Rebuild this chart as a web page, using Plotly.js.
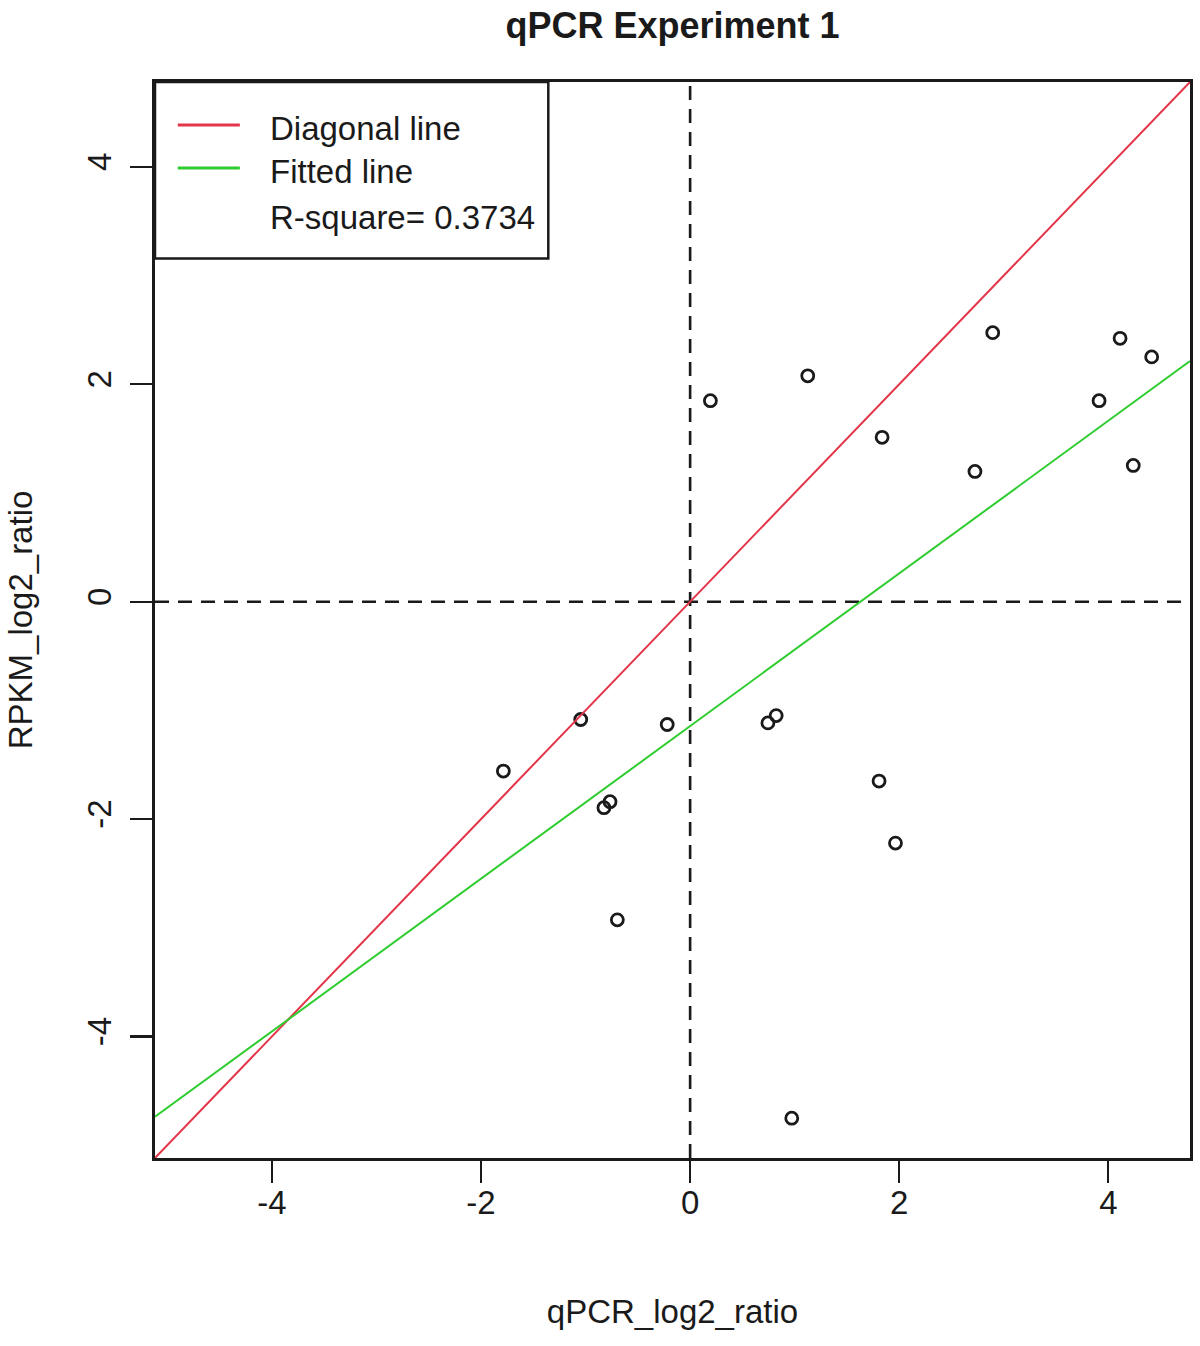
<!DOCTYPE html>
<html>
<head>
<meta charset="utf-8">
<script src="https://cdn.plot.ly/plotly-3.0.1.min.js"></script>
<style>html,body{margin:0;padding:0;background:#fff;}#chart{width:1200px;height:1346px;}</style>
</head>
<body>
<div id="chart"></div>
<script>
// ---- data ----
var qpcrLog2Ratio = [-1.786, -1.046, -0.219, -0.824, -0.766, -0.696, 0.194, 1.125, 1.836, 2.724,
                     2.894, 4.112, 4.414, 3.911, 4.238, 0.744, 0.823, 1.807, 1.964, 0.972];
var rpkmLog2Ratio = [-1.558, -1.084, -1.130, -1.895, -1.840, -2.927, 1.849, 2.078, 1.512, 1.198,
                     2.475, 2.423, 2.252, 1.849, 1.253, -1.115, -1.048, -1.650, -2.221, -4.751];
var axisTicks = [-4, -2, 0, 2, 4];
var legendLabels = ["Diagonal line", "Fitted line", "R-square= 0.3734"];
var chartTitle = "qPCR Experiment 1";
var xTitle = "qPCR_log2_ratio";
var yTitle = "RPKM_log2_ratio";

// axis limits: data range extended by 4% (as R does), same for both axes
var all = qpcrLog2Ratio.concat(rpkmLog2Ratio);
var lo = Math.min.apply(null, all), hi = Math.max.apply(null, all);
var pad = (hi - lo) * 0.04;
var lim = [lo - pad, hi + pad];

// least-squares fit (lm(y ~ x))
var n = qpcrLog2Ratio.length;
var mx = qpcrLog2Ratio.reduce(function(a,b){return a+b;},0)/n;
var my = rpkmLog2Ratio.reduce(function(a,b){return a+b;},0)/n;
var sxy = 0, sxx = 0;
for (var i = 0; i < n; i++) { sxy += (qpcrLog2Ratio[i]-mx)*(rpkmLog2Ratio[i]-my); sxx += (qpcrLog2Ratio[i]-mx)*(qpcrLog2Ratio[i]-mx); }
var slope = sxy / sxx, intercept = my - slope * mx;

var RED = "#e3364a", GREEN = "#2fcc2f", INK = "#1a1a1a";
var FONT = "Liberation Sans, Arial, sans-serif";

var traces = [
  {x: qpcrLog2Ratio, y: rpkmLog2Ratio, type: "scatter", mode: "markers",
   marker: {symbol: "circle-open", size: 12, color: INK, line: {width: 2.8, color: INK}},
   showlegend: false, hoverinfo: "x+y"},
  {x: lim, y: lim, type: "scatter", mode: "lines", line: {color: RED, width: 2}, name: legendLabels[0], showlegend: false},
  {x: lim, y: [intercept + slope*lim[0], intercept + slope*lim[1]], type: "scatter", mode: "lines",
   line: {color: GREEN, width: 2}, name: legendLabels[1], showlegend: false}
];

var legX0 = 0.0, legX1 = 0.38, legY0 = 0.836, legY1 = 1.0;
var shapes = [
  {type: "line", xref: "x", yref: "paper", x0: 0, x1: 0, y0: 0, y1: 1, line: {color: INK, width: 2.6, dash: "14px,9px"}, layer: "below"},
  {type: "line", xref: "paper", yref: "y", x0: 0, x1: 1, y0: 0, y1: 0, line: {color: INK, width: 2.6, dash: "14px,9px"}, layer: "below"},
  {type: "rect", xref: "paper", yref: "paper", x0: legX0, x1: legX1, y0: legY0, y1: legY1, line: {color: INK, width: 2.5}, fillcolor: "#ffffff", layer: "above"},
  {type: "line", xref: "paper", yref: "paper", x0: 0.022, x1: 0.082, y0: 0.960, y1: 0.960, line: {color: RED, width: 3}},
  {type: "line", xref: "paper", yref: "paper", x0: 0.022, x1: 0.082, y0: 0.920, y1: 0.920, line: {color: GREEN, width: 3}}
];
var legYs = [0.957, 0.9165, 0.8745];
var annotations = legendLabels.map(function(t, k){
  return {text: t, xref: "paper", yref: "paper", x: 0.109, y: legYs[k], xanchor: "left", yanchor: "middle",
          showarrow: false, font: {family: FONT, size: 33, color: INK}};
});

var axisCommon = {
  range: lim, tickvals: axisTicks, ticktext: axisTicks.map(String),
  ticks: "outside", ticklen: 22, tickwidth: 2.2, tickcolor: INK,
  showline: true, mirror: true, linewidth: 2.6, linecolor: INK,
  showgrid: false, zeroline: false,
  tickfont: {family: FONT, size: 33, color: INK}
};

var layout = {
  width: 1200, height: 1346,
  margin: {l: 155, r: 10, t: 82, b: 188},
  paper_bgcolor: "#ffffff", plot_bgcolor: "#ffffff",
  showlegend: false,
  title: {text: "<b>" + chartTitle + "</b>", x: 0.5, xref: "paper", xanchor: "center",
          y: 1 - 25/1346, yref: "container", yanchor: "middle",
          font: {family: FONT, size: 36, color: INK}},
  xaxis: Object.assign({}, axisCommon, {
    ticklabelstandoff: -8,
    title: {text: xTitle, font: {family: FONT, size: 33, color: INK}, standoff: 80}
  }),
  yaxis: Object.assign({}, axisCommon, {
    tickangle: -90,
    ticklabelstandoff: 6,
    title: {text: yTitle, font: {family: FONT, size: 33, color: INK}, standoff: 39}
  }),
  shapes: shapes,
  annotations: annotations
};

Plotly.newPlot("chart", traces, layout, {displayModeBar: false, staticPlot: true});
</script>
</body>
</html>
